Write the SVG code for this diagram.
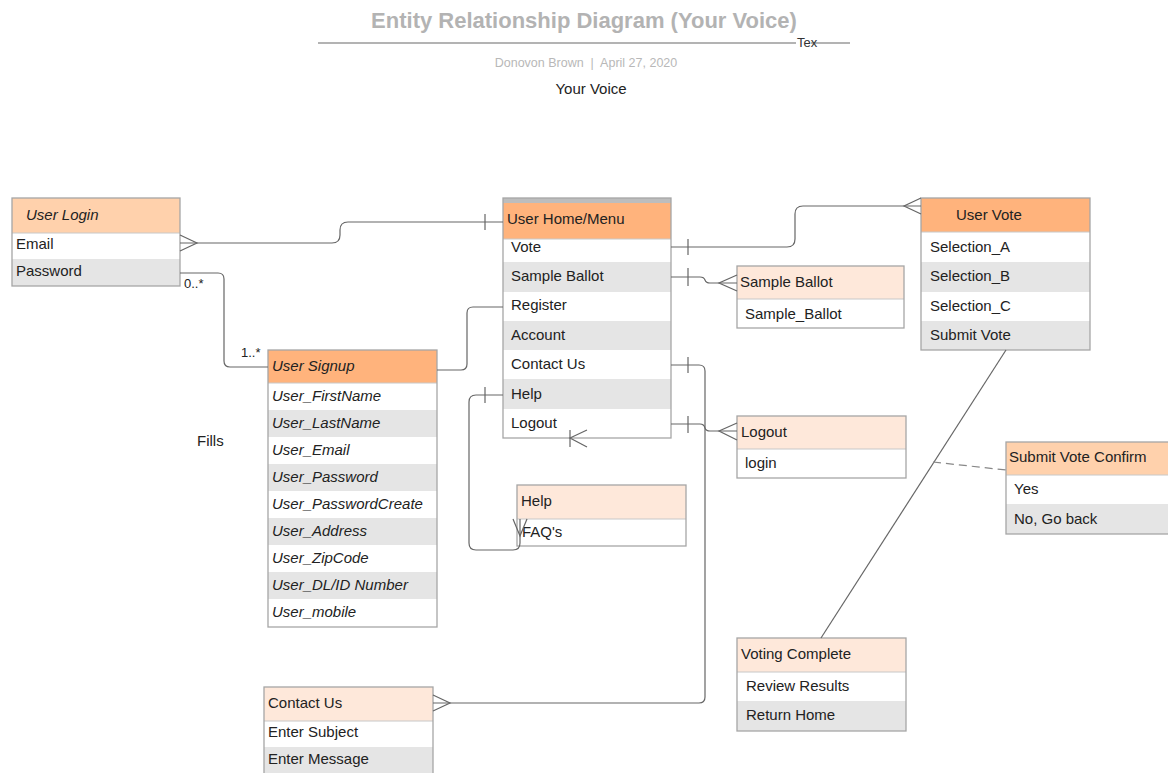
<svg xmlns="http://www.w3.org/2000/svg" width="1168" height="773" viewBox="0 0 1168 773">
<style>
text{font-family:"Liberation Sans",Arial,sans-serif;font-size:15px;fill:#222}
.it{font-style:italic}
.box{fill:none;stroke:#a6a6a6;stroke-width:1.3}
.hdO{fill:#ffb37c}
.hdP{fill:#ffd1ac}
.hdL{fill:#fee8da}
.w{fill:#ffffff}
.g{fill:#e5e5e5}
.sep{stroke:#c8c8c8;stroke-width:1}
.ln{fill:none;stroke:#666;stroke-width:1.2}
</style>
<rect width="1168" height="773" fill="#fff"/>

<g id="title">
<text x="584" y="28" text-anchor="middle" style="font-size:22px;font-weight:bold;fill:#b3b3b3">Entity Relationship Diagram (Your Voice)</text>
<line x1="318" y1="43" x2="796" y2="43" stroke="#b3b3b3" stroke-width="2"/>
<line x1="811" y1="43" x2="850" y2="43" stroke="#b3b3b3" stroke-width="2"/>
<text x="797" y="47" style="font-size:13px;fill:#333">Tex</text>
<text x="586" y="67" text-anchor="middle" xml:space="preserve" style="font-size:12.5px;fill:#b8b8b8">Donovon Brown  |  April 27, 2020</text>
<text x="591" y="94" text-anchor="middle" style="font-size:15px;fill:#222">Your Voice</text>
<text x="197" y="446">Fills</text>
</g>

<g id="user-login">
<rect class="hdP" x="12" y="198" width="168" height="35"/>
<rect class="w" x="12" y="233" width="168" height="26"/>
<rect class="g" x="12" y="259" width="168" height="27"/>
<line class="sep" x1="12" y1="233" x2="180" y2="233"/>
<rect class="box" x="12" y="198" width="168" height="88"/>
<text class="it" x="26" y="220">User Login</text>
<text x="16" y="249">Email</text>
<text x="16" y="276">Password</text>
</g>

<g id="user-signup">
<rect class="hdO" x="268" y="350" width="169" height="33"/>
<rect class="w" x="268" y="383" width="169" height="27"/>
<rect class="g" x="268" y="410" width="169" height="27"/>
<rect class="w" x="268" y="437" width="169" height="27"/>
<rect class="g" x="268" y="464" width="169" height="27"/>
<rect class="w" x="268" y="491" width="169" height="27"/>
<rect class="g" x="268" y="518" width="169" height="27"/>
<rect class="w" x="268" y="545" width="169" height="27"/>
<rect class="g" x="268" y="572" width="169" height="27"/>
<rect class="w" x="268" y="599" width="169" height="28"/>
<line class="sep" x1="268" y1="383" x2="437" y2="383"/>
<rect class="box" x="268" y="350" width="169" height="277"/>
<text class="it" x="272" y="371">User Signup</text>
<text class="it" x="272" y="401">User_FirstName</text>
<text class="it" x="272" y="428">User_LastName</text>
<text class="it" x="272" y="455">User_Email</text>
<text class="it" x="272" y="482">User_Password</text>
<text class="it" x="272" y="509">User_PasswordCreate</text>
<text class="it" x="272" y="536">User_Address</text>
<text class="it" x="272" y="563">User_ZipCode</text>
<text class="it" x="272" y="590">User_DL/ID Number</text>
<text class="it" x="272" y="617">User_mobile</text>
</g>

<g id="user-home">
<rect x="503" y="198" width="168" height="5" fill="#bdbdbd"/>
<rect class="hdO" x="503" y="203" width="168" height="36"/>
<rect class="w" x="503" y="239" width="168" height="23"/>
<rect class="g" x="503" y="262" width="168" height="30"/>
<rect class="w" x="503" y="292" width="168" height="29"/>
<rect class="g" x="503" y="321" width="168" height="29"/>
<rect class="w" x="503" y="350" width="168" height="29"/>
<rect class="g" x="503" y="379" width="168" height="30"/>
<rect class="w" x="503" y="409" width="168" height="29"/>
<line class="sep" x1="503" y1="239" x2="671" y2="239"/>
<rect class="box" x="503" y="198" width="168" height="240"/>
<text x="507" y="224">User Home/Menu</text>
<text x="511" y="252">Vote</text>
<text x="511" y="281">Sample Ballot</text>
<text x="511" y="310">Register</text>
<text x="511" y="340">Account</text>
<text x="511" y="369">Contact Us</text>
<text x="511" y="399">Help</text>
<text x="511" y="428">Logout</text>
</g>

<g id="sample-ballot">
<rect class="hdL" x="737" y="266" width="167" height="33"/>
<rect class="w" x="737" y="299" width="167" height="29"/>
<line class="sep" x1="737" y1="299" x2="904" y2="299"/>
<rect class="box" x="737" y="266" width="167" height="62"/>
<text x="740" y="287">Sample Ballot</text>
<text x="745" y="319">Sample_Ballot</text>
</g>

<g id="user-vote">
<rect class="hdO" x="921" y="198" width="169" height="34"/>
<rect class="w" x="921" y="232" width="169" height="30"/>
<rect class="g" x="921" y="262" width="169" height="30"/>
<rect class="w" x="921" y="292" width="169" height="29"/>
<rect class="g" x="921" y="321" width="169" height="29"/>
<line class="sep" x1="921" y1="232" x2="1090" y2="232"/>
<rect class="box" x="921" y="198" width="169" height="152"/>
<text x="956" y="220">User Vote</text>
<text x="930" y="252">Selection_A</text>
<text x="930" y="281">Selection_B</text>
<text x="930" y="311">Selection_C</text>
<text x="930" y="340">Submit Vote</text>
</g>

<g id="logout">
<rect class="hdL" x="737" y="416" width="169" height="33"/>
<rect class="w" x="737" y="449" width="169" height="29"/>
<line class="sep" x1="737" y1="449" x2="906" y2="449"/>
<rect class="box" x="737" y="416" width="169" height="62"/>
<text x="741" y="437">Logout</text>
<text x="745" y="468">login</text>
</g>

<g id="help">
<rect class="hdL" x="517" y="485" width="169" height="34"/>
<rect class="w" x="517" y="519" width="169" height="27"/>
<line class="sep" x1="517" y1="519" x2="686" y2="519"/>
<rect class="box" x="517" y="485" width="169" height="61"/>
<text x="521" y="506">Help</text>
<text x="522" y="537">FAQ's</text>
</g>

<g id="submit-vote-confirm">
<rect class="hdP" x="1006" y="442" width="170" height="33"/>
<rect class="w" x="1006" y="475" width="170" height="29"/>
<rect class="g" x="1006" y="504" width="170" height="30"/>
<line class="sep" x1="1006" y1="475" x2="1168" y2="475"/>
<rect class="box" x="1006" y="442" width="170" height="92"/>
<text x="1009" y="462">Submit Vote Confirm</text>
<text x="1014" y="494">Yes</text>
<text x="1014" y="524">No, Go back</text>
</g>

<g id="voting-complete">
<rect class="hdL" x="737" y="638" width="169" height="34"/>
<rect class="w" x="737" y="672" width="169" height="29"/>
<rect class="g" x="737" y="701" width="169" height="30"/>
<line class="sep" x1="737" y1="672" x2="906" y2="672"/>
<rect class="box" x="737" y="638" width="169" height="93"/>
<text x="741" y="659">Voting Complete</text>
<text x="746" y="691">Review Results</text>
<text x="746" y="720">Return Home</text>
</g>

<g id="contact-us">
<rect class="hdL" x="264" y="687" width="169" height="34"/>
<rect class="w" x="264" y="721" width="169" height="26"/>
<rect class="g" x="264" y="747" width="169" height="30"/>
<line class="sep" x1="264" y1="721" x2="433" y2="721"/>
<rect class="box" x="264" y="687" width="169" height="90"/>
<text x="268" y="708">Contact Us</text>
<text x="268" y="737">Enter Subject</text>
<text x="268" y="764">Enter Message</text>
</g>

<g id="connectors">
<path class="ln" d="M180 243 H332 Q340 243 340 235 V230 Q340 222 348 222 H503"/>
<path class="ln" d="M180 235 L197 243 L180 251"/>
<line class="ln" x1="485" y1="214" x2="485" y2="230"/>
<path class="ln" d="M180 273 H218 Q224 273 224 279 V361 Q224 367 230 367 H268"/>
<text x="184" y="288" style="font-size:13px">0..*</text>
<text x="241" y="357" style="font-size:13px">1..*</text>
<path class="ln" d="M437 370 H461 Q467 370 467 364 V313 Q467 307 473 307 H503"/>
<path class="ln" d="M671 247 H787 Q795 247 795 239 V214 Q795 206 803 206 H921"/>
<line class="ln" x1="688" y1="239" x2="688" y2="255"/>
<path class="ln" d="M921 198 L904 206 L921 214"/>
<path class="ln" d="M671 277 H700 Q704 277 705 280 Q706 283 710 283 H737"/>
<line class="ln" x1="688" y1="268" x2="688" y2="286"/>
<path class="ln" d="M737 275 L719 283 L737 291"/>
<path class="ln" d="M671 365 H699 Q705 365 705 371 V697 Q705 703 699 703 H433"/>
<line class="ln" x1="688" y1="357" x2="688" y2="373"/>
<path class="ln" d="M433 695 L450 703 L433 711"/>
<path class="ln" d="M503 395 H476 Q469 395 469 402 V543 Q469 550 476 550 H513 Q520 550 520 543 V519"/>
<line class="ln" x1="485" y1="387" x2="485" y2="403"/>
<path class="ln" d="M513 519 L520 536 L527 519"/>
<path class="ln" d="M671 424 H700 Q704 424 705 428 Q706 431 710 431 H737"/>
<line class="ln" x1="688" y1="416" x2="688" y2="433"/>
<path class="ln" d="M737 423 L719 431 L737 440"/>
<line class="ln" x1="570" y1="430" x2="570" y2="447"/>
<path class="ln" d="M587 430 L570 438 L587 447"/>
<line class="ln" x1="1006" y1="350" x2="821" y2="638"/>
<line x1="933" y1="462" x2="1006" y2="470" stroke="#888" stroke-width="1.2" stroke-dasharray="8,5"/>
</g>
</svg>
